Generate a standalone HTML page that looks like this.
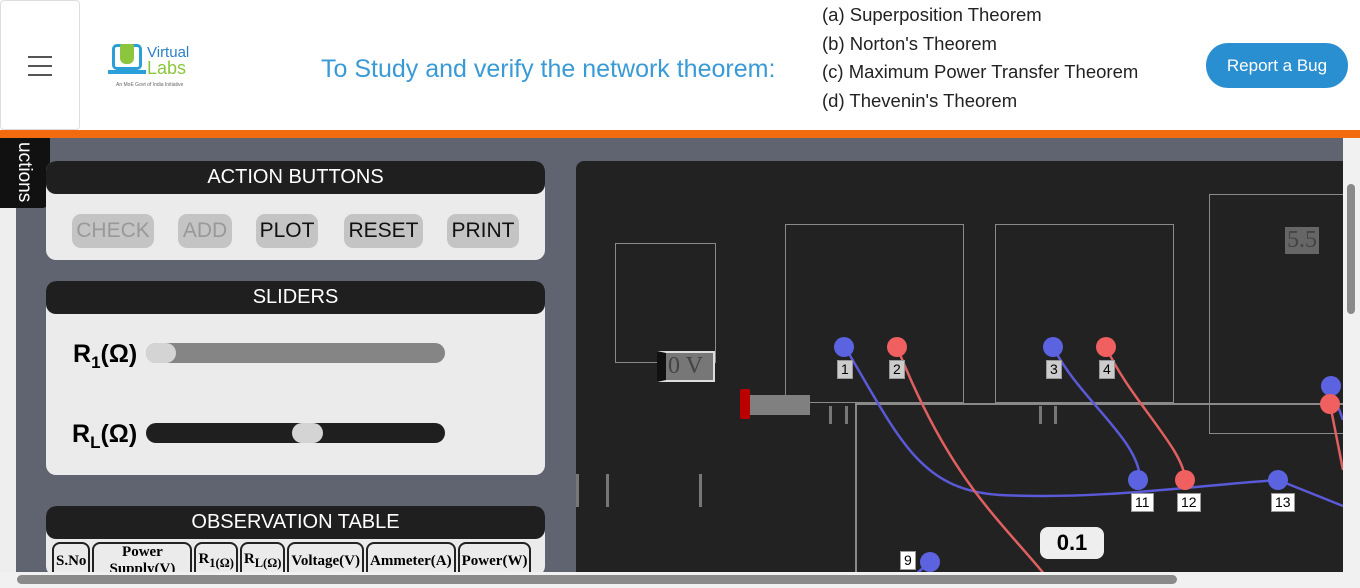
<!DOCTYPE html>
<html><head><style>
*{margin:0;padding:0;box-sizing:border-box}
body{width:1360px;height:588px;overflow:hidden;background:#fff;font-family:"Liberation Sans",sans-serif;position:relative}
.a{position:absolute}
.panel{position:absolute;left:46px;width:499px;background:#ebebeb;border-radius:10px}
.ph{position:absolute;left:46px;width:499px;height:33px;background:#1f1f1f;border-radius:10px;color:#fff;font-size:20px;text-align:center;line-height:33px}
.btn{position:absolute;top:214px;height:34px;background:#c4c4c4;border-radius:9px;font-size:21px;line-height:34px;text-align:center;color:#111}
.box{position:absolute;border:1.5px solid #8a8a8a}
.node{position:absolute;width:20px;height:20px;border-radius:50%}
.lbl{position:absolute;background:#fff;color:#000;font-size:14px;padding:0 3px;line-height:17px;border:1px solid #999}
th{border:2px solid #222;border-radius:8px;font-family:"Liberation Serif",serif;font-size:15px;background:#ebebeb;padding:0 2px;height:36px;vertical-align:middle}
</style></head><body>
<div class="a" style="left:0;top:0;width:80px;height:130px;border:1px solid #ddd;border-radius:4px"></div>
<div class="a" style="left:28px;top:56px;width:24px;height:2px;background:#555"></div>
<div class="a" style="left:28px;top:65px;width:24px;height:2px;background:#555"></div>
<div class="a" style="left:28px;top:74px;width:24px;height:2px;background:#555"></div>
<div class="a" style="left:112px;top:44px;width:30px;height:26px;border:3px solid #2a9fd8;border-radius:5px"></div>
<div class="a" style="left:120px;top:44px;width:14px;height:20px;background:#8cc63f;border-radius:2px 2px 6px 6px"></div>
<div class="a" style="left:108px;top:70px;width:38px;height:4px;background:#2a9fd8"></div>
<div class="a" style="left:147px;top:44px;font-size:15px;color:#2a7fc8">Virtual</div>
<div class="a" style="left:147px;top:58px;font-size:18px;color:#8cc63f">Labs</div>
<div class="a" style="left:116px;top:82px;font-size:5px;color:#666">An MoE Govt of India Initiative</div>
<div class="a" style="left:321px;top:55px;font-size:25px;color:#3a9ad6">To Study and verify the network theorem:</div>
<div class="a" style="left:822px;top:1px;font-size:18.5px;color:#222;line-height:28.5px">(a) Superposition Theorem<br>(b) Norton's Theorem<br>(c) Maximum Power Transfer Theorem<br>(d) Thevenin's Theorem</div>
<div class="a" style="left:1206px;top:43px;width:142px;height:45px;background:#2a8fd0;border-radius:22px;color:#fff;font-size:17px;text-align:center;line-height:45px">Report a Bug</div>
<div class="a" style="left:0;top:130px;width:1360px;height:8px;background:#f26b0f"></div>
<div class="a" style="left:0;top:138px;width:1360px;height:450px;background:#eee"></div>
<div class="a" style="left:16px;top:138px;width:1327px;height:434px;background:#5f6470"></div>
<div class="a" style="left:0;top:138px;width:50px;height:70px;background:#111;border-radius:0 0 8px 0"></div>
<div class="a" style="left:13px;top:142px;color:#fff;font-size:19px;writing-mode:vertical-rl">uctions</div>
<div class="panel" style="top:161px;height:99px"></div>
<div class="ph" style="top:161px">ACTION BUTTONS</div>
<div class="btn" style="left:72px;width:82px;color:#999">CHECK</div>
<div class="btn" style="left:178px;width:54px;color:#999">ADD</div>
<div class="btn" style="left:256px;width:62px">PLOT</div>
<div class="btn" style="left:344px;width:79px">RESET</div>
<div class="btn" style="left:447px;width:72px">PRINT</div>
<div class="panel" style="top:281px;height:194px"></div>
<div class="ph" style="top:281px">SLIDERS</div>
<div class="a" style="left:73px;top:340px;font-size:25px;font-weight:bold">R<sub style="font-size:17px">1</sub>(Ω)</div>
<div class="a" style="left:146px;top:343px;width:299px;height:20px;background:#858585;border-radius:10px"></div>
<div class="a" style="left:146px;top:343px;width:30px;height:20px;background:#d4d4d4;border-radius:10px"></div>
<div class="a" style="left:72px;top:420px;font-size:25px;font-weight:bold">R<sub style="font-size:17px">L</sub>(Ω)</div>
<div class="a" style="left:146px;top:423px;width:299px;height:20px;background:#1f1f1f;border-radius:10px"></div>
<div class="a" style="left:292px;top:423px;width:31px;height:20px;background:#d4d4d4;border-radius:10px"></div>
<div class="panel" style="top:506px;height:70px"></div>
<div class="ph" style="top:506px">OBSERVATION TABLE</div>
<table class="a" style="left:50px;top:542px;border-spacing:2px 0"><tr>
<th>S.No</th><th style="width:100px">Power<br>Supply(V)</th><th>R<sub>1(Ω)</sub></th><th>R<sub>L(Ω)</sub></th><th>Voltage(V)</th><th>Ammeter(A)</th><th>Power(W)</th></tr></table>
<div class="a" style="left:576px;top:161px;width:767px;height:411px;background:#222;border-radius:8px 0 0 0"></div>
<div class="box" style="left:615px;top:243px;width:101px;height:120px"></div>
<div class="a" style="left:657px;top:351px;width:58px;height:31px;border:2px solid #ddd;background:#777;font-family:'Liberation Serif',serif;font-size:24px;color:#444;line-height:27px;padding-left:2px;border-left:9px solid #111">0 V</div>
<div class="box" style="left:785px;top:224px;width:179px;height:179px"></div>
<div class="box" style="left:995px;top:224px;width:179px;height:179px"></div>
<div class="box" style="left:1209px;top:194px;width:140px;height:240px"></div>
<div class="a" style="left:1285px;top:227px;background:#666;color:#444;font-family:'Liberation Serif',serif;font-size:24px;padding:0 2px">5.5</div>
<div class="a" style="left:855px;top:403px;width:490px;height:1.5px;background:#8a8a8a"></div>
<div class="a" style="left:855px;top:403px;width:1.5px;height:170px;background:#8a8a8a"></div>
<div class="a" style="left:740px;top:389px;width:10px;height:30px;background:#b00;border-radius:2px"></div>
<div class="a" style="left:750px;top:395px;width:60px;height:20px;background:#808080"></div>
<div class="a" style="left:829px;top:406px;width:3px;height:18px;background:#777"></div>
<div class="a" style="left:845px;top:406px;width:3px;height:18px;background:#777"></div>
<div class="a" style="left:1039px;top:406px;width:3px;height:18px;background:#777"></div>
<div class="a" style="left:1054px;top:406px;width:3px;height:18px;background:#777"></div>
<div class="a" style="left:576px;top:474px;width:3px;height:33px;background:#777"></div>
<div class="a" style="left:606px;top:474px;width:3px;height:33px;background:#777"></div>
<div class="a" style="left:699px;top:474px;width:3px;height:33px;background:#777"></div>
<svg class="a" style="left:0;top:0" width="1360" height="588">
<g fill="none" stroke-width="2.5">
<path d="M845 347 C900 440 920 490 1000 495 C1100 500 1200 485 1278 480 L1343 506" stroke="#5a5ad8"/>
<path d="M897 347 C950 480 1000 520 1045 575" stroke="#e06060"/>
<path d="M1053 347 C1080 400 1140 440 1140 480" stroke="#5a5ad8"/>
<path d="M1106 347 C1130 400 1185 450 1185 480" stroke="#e06060"/>
<path d="M1330 385 L1343 420" stroke="#5a5ad8"/>
<path d="M1330 404 L1343 470" stroke="#e06060"/>
<path d="M930 562 L915 575" stroke="#5a5ad8"/>
</g></svg>
<div class="node" style="left:834px;top:337px;background:#5c63e0"></div>
<div class="node" style="left:887px;top:337px;background:#f06060"></div>
<div class="node" style="left:1043px;top:337px;background:#5c63e0"></div>
<div class="node" style="left:1096px;top:337px;background:#f06060"></div>
<div class="node" style="left:1128px;top:470px;background:#5c63e0"></div>
<div class="node" style="left:1175px;top:470px;background:#f06060"></div>
<div class="node" style="left:1268px;top:470px;background:#5c63e0"></div>
<div class="node" style="left:1321px;top:376px;background:#5c63e0"></div>
<div class="node" style="left:1320px;top:394px;background:#f06060"></div>
<div class="node" style="left:920px;top:552px;background:#5c63e0"></div>
<div class="lbl" style="left:837px;top:360px;background:#ccc">1</div>
<div class="lbl" style="left:889px;top:360px;background:#ccc">2</div>
<div class="lbl" style="left:1046px;top:360px;background:#ccc">3</div>
<div class="lbl" style="left:1099px;top:360px;background:#ccc">4</div>
<div class="lbl" style="left:1131px;top:493px">11</div>
<div class="lbl" style="left:1177px;top:493px">12</div>
<div class="lbl" style="left:1271px;top:493px">13</div>
<div class="lbl" style="left:900px;top:551px">9</div>
<div class="a" style="left:1040px;top:527px;width:64px;height:32px;background:#eee;border-radius:8px;font-size:22px;font-weight:bold;text-align:center;line-height:32px">0.1</div>
<div class="a" style="left:1343px;top:138px;width:17px;height:434px;background:#f1f1f1"></div>
<div class="a" style="left:1347px;top:184px;width:8px;height:130px;background:#8a8a8a;border-radius:4px"></div>
<div class="a" style="left:0;top:572px;width:1360px;height:16px;background:#f1f1f1"></div>
<div class="a" style="left:17px;top:575px;width:1160px;height:9px;background:#8a8a8a;border-radius:5px"></div>
</body></html>
